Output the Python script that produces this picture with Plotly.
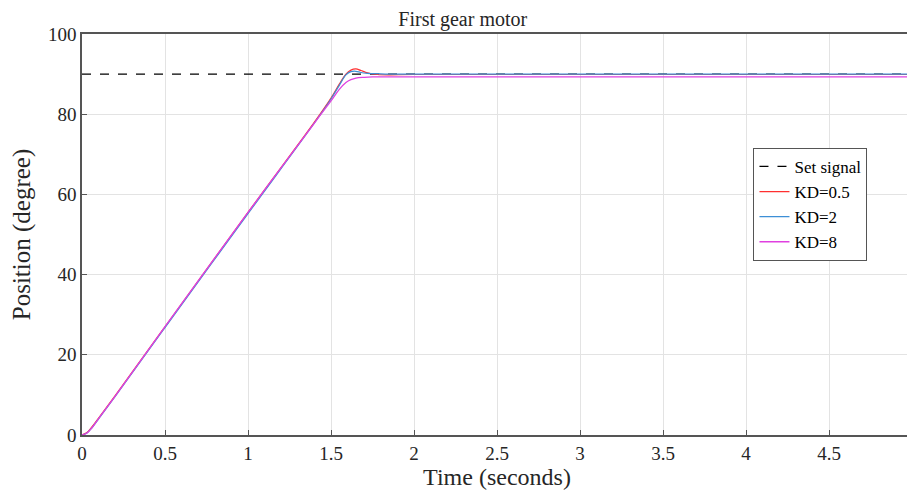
import plotly.graph_objects as go

t_set = [0, 5]
set_signal = [90, 90]

t_red = [0, 0.03, 0.06, 0.1, 0.2, 0.5, 1.0, 1.4, 1.5, 1.55, 1.59, 1.62, 1.65, 1.68, 1.72, 1.78, 1.85, 2.0, 5.0]
kd05 = [0, 0.6, 2.0, 4.2, 9.8, 27.0, 55.5, 78.0, 84.0, 87.5, 90.0, 91.0, 91.3, 90.9, 90.3, 89.9, 89.8, 89.9, 89.9]

t_blue = [0, 0.03, 0.06, 0.1, 0.2, 0.5, 1.0, 1.4, 1.5, 1.55, 1.59, 1.62, 1.65, 1.68, 1.72, 1.78, 1.85, 2.0, 5.0]
kd2 = [0, 0.5, 1.8, 4.0, 9.6, 26.8, 55.2, 77.8, 83.8, 87.2, 89.8, 90.6, 90.7, 90.4, 90.2, 90.1, 90.0, 90.0, 90.0]

t_mag = [0, 0.03, 0.06, 0.1, 0.2, 0.5, 1.0, 1.4, 1.5, 1.55, 1.59, 1.62, 1.65, 1.7, 1.75, 1.8, 2.0, 5.0]
kd8 = [0, 0.5, 1.8, 4.1, 9.7, 27.0, 55.5, 77.8, 83.3, 86.2, 87.9, 88.6, 89.0, 89.2, 89.3, 89.3, 89.3, 89.3]

x_ticks = [0, 0.5, 1, 1.5, 2, 2.5, 3, 3.5, 4, 4.5, 5]
x_ticktext = ["0", "0.5", "1", "1.5", "2", "2.5", "3", "3.5", "4", "4.5", "5"]
y_ticks = [0, 20, 40, 60, 80, 100]

font_family = "Liberation Serif, Times New Roman, serif"

fig = go.Figure()
fig.add_trace(go.Scatter(x=t_set, y=set_signal, mode="lines", name="Set signal",
                         line=dict(color="black", width=1.2, dash="dash")))
fig.add_trace(go.Scatter(x=t_red, y=kd05, mode="lines", name="KD=0.5",
                         line=dict(color="#ff3030", width=1.2, shape="spline")))
fig.add_trace(go.Scatter(x=t_blue, y=kd2, mode="lines", name="KD=2",
                         line=dict(color="#3d8fd6", width=1.2, shape="spline")))
fig.add_trace(go.Scatter(x=t_mag, y=kd8, mode="lines", name="KD=8",
                         line=dict(color="#e040e0", width=1.3, shape="spline")))

fig.update_layout(
    width=915, height=492,
    margin=dict(l=74, r=6, t=26, b=65),
    paper_bgcolor="white", plot_bgcolor="white",
    font=dict(family=font_family, size=19, color="#262626"),
    title=dict(text="First gear motor", xref="container", x=0.497, xanchor="center",
               yref="container", y=0.977, yanchor="middle",
               font=dict(size=20, color="#262626")),
    showlegend=True,
    legend=dict(x=0.809, y=0.716, xanchor="left", yanchor="top",
                bgcolor="white", bordercolor="#555555", borderwidth=1,
                font=dict(size=17, color="black"), tracegroupgap=0,
                itemwidth=30),
    xaxis=dict(range=[0, 5], tickvals=x_ticks, ticktext=x_ticktext,
               showgrid=True, gridcolor="#e3e3e3", gridwidth=1,
               showline=True, linecolor="#555555", linewidth=1.5, mirror=True,
               ticks="inside", ticklen=5, tickcolor="#555555",
               zeroline=False,
               title=dict(text="Time (seconds)", font=dict(size=24), standoff=2)),
    yaxis=dict(range=[0, 100], tickvals=y_ticks,
               showgrid=True, gridcolor="#e3e3e3", gridwidth=1,
               showline=True, linecolor="#555555", linewidth=1.5, mirror=True,
               ticks="inside", ticklen=5, tickcolor="#555555",
               zeroline=False,
               title=dict(text="Position (degree)", font=dict(size=25), standoff=12)),
)

fig.write_html("out.html")
